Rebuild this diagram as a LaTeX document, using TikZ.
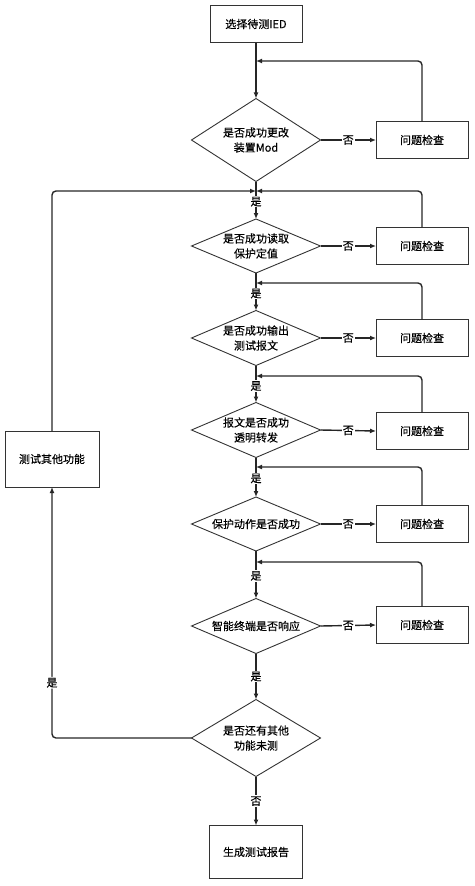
\documentclass[tikz,border=0pt]{standalone}
\usepackage{fontspec}
\setmainfont[FakeBold=0.3]{Noto Sans CJK SC}
\usetikzlibrary{shapes.geometric,arrows.meta}
\begin{document}
\begin{tikzpicture}[x=1pt,y=-1pt,
  box/.style={draw=black!80, line width=0.9pt, minimum width=92pt, minimum height=37pt, inner sep=0pt, outer sep=0pt, font=\fontsize{11}{13}\selectfont},
  dia/.style={draw=black!80, line width=0.9pt, diamond, minimum width=129pt, inner sep=0pt, outer sep=0pt},
  dt/.style={align=center, inner sep=0pt, font=\fontsize{11}{15}\selectfont},
  ln/.style={line width=1.7pt, draw=black!85},
  arr/.style={ln, -{Latex[length=6pt,width=5pt]}},
  lab/.style={fill=white, inner sep=1pt, font=\fontsize{11}{13}\selectfont},
  back/.style={arr, rounded corners=4pt, line width=1.4pt}]
\useasboundingbox (0,0) rectangle (474,886);

% nodes
\node[box] (t) at (256,24) {选择待测IED};
\node[dia, minimum height=83pt, label={[dt]center:是否成功更改\\装置Mod}] (d1) at (256,140) {};
\node[box] (p1) at (422,140) {问题检查};
\node[dia, minimum height=54pt, label={[dt]center:是否成功读取\\保护定值}] (d2) at (256,246) {};
\node[box] (p2) at (422,246) {问题检查};
\node[dia, minimum height=55pt, label={[dt]center:是否成功输出\\测试报文}] (d3) at (256,338) {};
\node[box] (p3) at (422,338) {问题检查};
\node[dia, minimum height=55pt, label={[dt]center:报文是否成功\\透明转发}] (d4) at (256,430) {};
\node[box] (p4) at (422,431) {问题检查};
\node[dia, minimum height=54pt, label={[dt]center:保护动作是否成功}] (d5) at (256,524) {};
\node[box] (p5) at (422,524) {问题检查};
\node[dia, minimum height=55pt, label={[dt]center:智能终端是否响应}] (d6) at (256,626) {};
\node[box] (p6) at (422,625) {问题检查};
\node[dia, minimum height=77pt, label={[dt]center:是否还有其他\\功能未测}] (d7) at (256,738) {};
\node[box, minimum width=93pt, minimum height=53pt] (r) at (256,852) {生成测试报告};
\node[box, minimum width=94pt, minimum height=56pt] (o) at (52,459) {测试其他功能};

% junctions
\coordinate (j1) at (256,61);
\coordinate (j2) at (256,191);
\coordinate (j3) at (256,283);
\coordinate (j4) at (256,376);
\coordinate (j5) at (256,467);
\coordinate (j6) at (256,562);

% main axis
\draw[arr] (t) -- (d1);
\draw[ln] (d1.south) -- (j2);
\draw[arr] (j2) -- node[lab, pos=0.38]{是} (d2.north);
\draw[ln] (d2.south) -- (j3);
\draw[arr] (j3) -- node[lab, pos=0.38]{是} (d3.north);
\draw[ln] (d3.south) -- (j4);
\draw[arr] (j4) -- node[lab, pos=0.38]{是} (d4.north);
\draw[ln] (d4.south) -- (j5);
\draw[arr] (j5) -- node[lab, pos=0.38]{是} (d5.north);
\draw[ln] (d5.south) -- (j6);
\draw[arr] (j6) -- node[lab, pos=0.38]{是} (d6.north);
\draw[arr] (d6.south) -- node[lab]{是} (d7.north);
\draw[arr] (d7.south) -- node[lab]{否} (r.north);

% no branches
\foreach \i in {1,...,6}{
  \draw[arr, line width=1.4pt] (d\i.east) -- node[lab]{否} (p\i.west);
}

% feedback
\draw[back] (p1.north) |- (j1);
\draw[back] (p2.north) |- (j2);
\draw[back] (p3.north) |- (j3);
\draw[back] (p4.north) |- (j4);
\draw[back] (p5.north) |- (j5);
\draw[back] (p6.north) |- (j6);

% loop on the left
\draw[arr, line width=1.4pt, rounded corners=4pt] (d7.west) -| node[lab, pos=0.61]{是} (o.south);
\draw[back] (o.north) |- (j2);
\end{tikzpicture}
\end{document}
